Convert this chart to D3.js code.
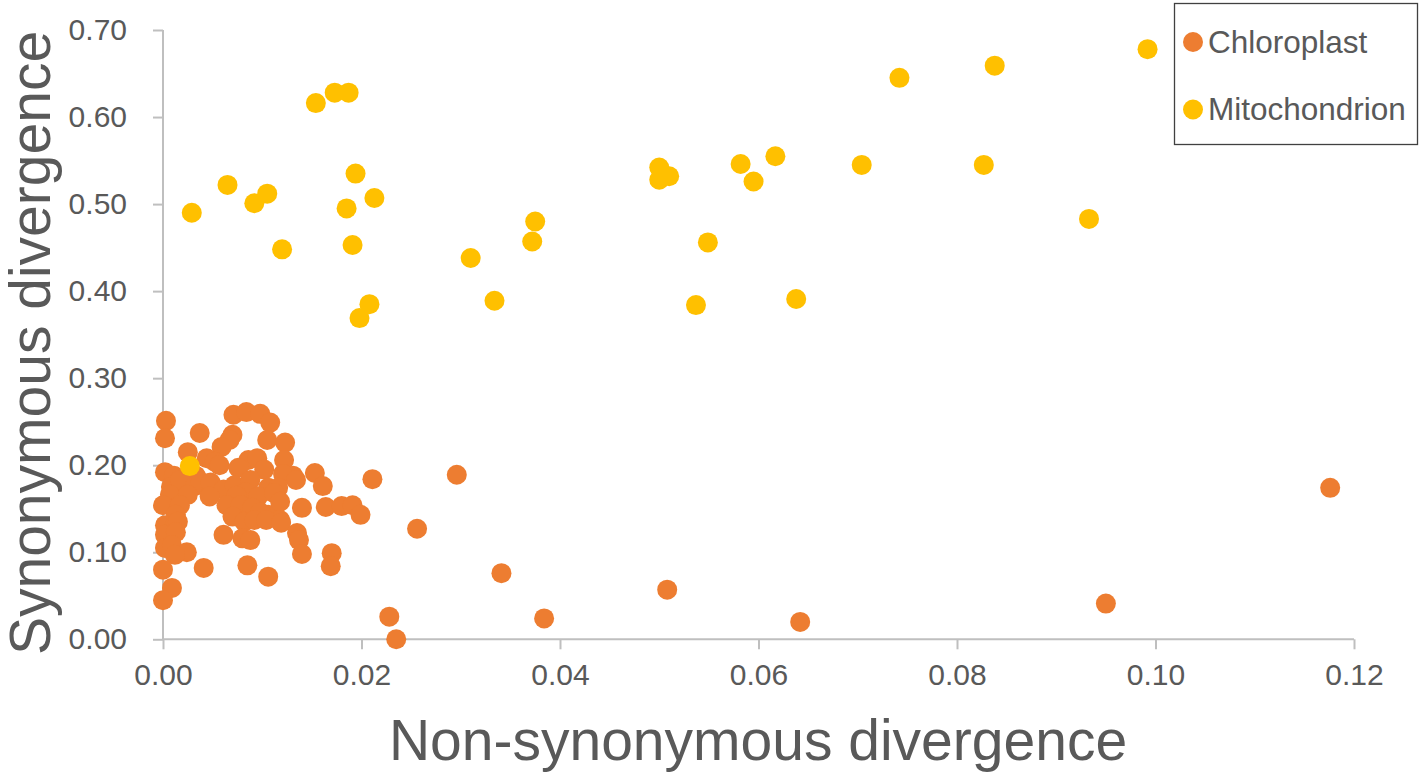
<!DOCTYPE html>
<html>
<head>
<meta charset="utf-8">
<script src="https://cdn.jsdelivr.net/npm/d3@7"></script>
<style>
  html, body { margin: 0; padding: 0; background: #fff; }
  svg { display: block; font-family: "Liberation Sans", Arial, sans-serif; }
</style>
</head>
<body>
<svg id="chart" width="1421" height="772"></svg>
<script>
// ---- data ----
const seriesNames = ["Chloroplast", "Mitochondrion"];
const xTicks = [0, 0.02, 0.04, 0.06, 0.08, 0.10, 0.12];
const yTicks = [0, 0.1, 0.2, 0.3, 0.4, 0.5, 0.6, 0.7];

const chloroplastX = [
  0.0003,0.0071,0.0084,0.0098,0.0108,0.0002,0.0037,0.0070,0.0067,0.0059,
  0.0105,0.0123,0.0025,0.0002,0.0044,0.0052,0.0057,0.0086,0.0095,0.0122,
  0.0131,0.0011,0.0033,0.0076,0.0102,0.0121,0.0153,0.0008,0.0017,0.0032,
  0.0038,0.0048,0.0061,0.0072,0.0088,0.0083,0.0106,0.0116,0.0134,0.0161,
  0.0007,0.0025,0.0047,0.0074,0.0096,0.0112,0.0000,0.0017,0.0064,0.0078,
  0.0090,0.0106,0.0118,0.0140,0.0164,0.0180,0.0191,0.0199,0.0013,0.0070,
  0.0098,0.0118,0.0002,0.0012,0.0015,0.0082,0.0092,0.0104,0.0119,0.0135,
  0.0137,0.0002,0.0013,0.0061,0.0080,0.0002,0.0009,0.0024,0.0012,0.0085,
  0.0106,0.0140,0.0170,0.0169,0.0041,0.0000,0.0009,0.0000,0.0088,
  0.1176,0.0950,0.0642,0.0508,0.0384,0.0341,0.0296,0.0256,0.0228,0.0235,0.0211
];
const chloroplastY = [
  0.251,0.258,0.261,0.259,0.249,0.231,0.237,0.235,0.229,0.221,
  0.229,0.226,0.215,0.192,0.208,0.204,0.200,0.206,0.208,0.206,
  0.188,0.188,0.188,0.197,0.195,0.190,0.191,0.175,0.183,0.176,
  0.181,0.180,0.172,0.177,0.183,0.169,0.174,0.174,0.183,0.176,
  0.166,0.166,0.164,0.165,0.164,0.168,0.154,0.154,0.154,0.154,
  0.151,0.143,0.158,0.151,0.152,0.153,0.154,0.143,0.143,0.141,
  0.146,0.137,0.131,0.131,0.135,0.135,0.137,0.137,0.134,0.122,
  0.114,0.120,0.123,0.120,0.116,0.105,0.108,0.100,0.097,0.085,
  0.072,0.098,0.099,0.084,0.082,0.080,0.059,0.045,0.114,
  0.174,0.041,0.020,0.057,0.024,0.076,0.189,0.127,0.026,0.000,0.184
];
const mitochondrionX = [
  0.0029,0.0065,0.0092,0.0105,0.0120,0.0154,0.0173,0.0187,0.0185,0.0194,
  0.0191,0.0213,0.0208,0.0198,0.0310,0.0334,0.0372,0.0375,0.0500,0.0500,
  0.0510,0.0549,0.0537,0.0582,0.0595,0.0617,0.0638,0.0704,0.0742,0.0827,
  0.0838,0.0933,0.0992,0.0027
];
const mitochondrionY = [
  0.490,0.522,0.501,0.512,0.448,0.616,0.628,0.628,0.495,0.535,
  0.453,0.507,0.385,0.369,0.438,0.389,0.457,0.480,0.542,0.528,
  0.532,0.456,0.384,0.546,0.526,0.555,0.391,0.545,0.645,0.545,
  0.659,0.483,0.678,0.199
];

const colors = ["#ED7D31", "#FFC000"];
const textColor = "#595959";
const axisColor = "#BFBFBF";

// ---- layout ----
const svg = d3.select("#chart");
const x = d3.scaleLinear().domain([0, 0.12]).range([163, 1354]);
const y = d3.scaleLinear().domain([0, 0.7]).range([639.3, 30]);

// y axis
const yAxis = svg.append("g").attr("transform", "translate(163,0)")
  .call(d3.axisLeft(y).tickValues(yTicks).tickSize(10).tickPadding(26).tickFormat(d3.format(".2f")));
// x axis
const xAxis = svg.append("g").attr("transform", `translate(0,${y(0)})`)
  .call(d3.axisBottom(x).tickValues(xTicks).tickSize(10).tickPadding(14).tickFormat(d3.format(".2f")));

[yAxis, xAxis].forEach(g => {
  g.select(".domain").attr("stroke", axisColor).attr("stroke-width", 2);
  g.selectAll(".tick line").attr("stroke", axisColor).attr("stroke-width", 2);
  g.selectAll(".tick text").attr("fill", textColor).style("font-size", "30px")
    .style("font-family", "'Liberation Sans', Arial, sans-serif");
});
xAxis.select(".domain").attr("d", `M${x(0)},0H${x(0.12)}`);
yAxis.select(".domain").attr("d", `M0,${y(0.7)}V${y(0)}`);

// axis titles
svg.append("text")
  .attr("x", 758).attr("y", 760)
  .attr("text-anchor", "middle")
  .attr("fill", textColor)
  .style("font-size", "57px")
  .text("Non-synonymous divergence");
svg.append("text")
  .attr("transform", "translate(50,343) rotate(-90)")
  .attr("text-anchor", "middle")
  .attr("fill", textColor)
  .style("font-size", "57px")
  .text("Synonymous divergence");

// points
const chloro = chloroplastX.map((v, i) => ({x: v, y: chloroplastY[i]}));
const mito = mitochondrionX.map((v, i) => ({x: v, y: mitochondrionY[i]}));
[chloro, mito].forEach((data, si) => {
  svg.append("g").selectAll("circle").data(data).join("circle")
    .attr("cx", d => x(d.x)).attr("cy", d => y(d.y)).attr("r", 10)
    .attr("fill", colors[si]);
});

// legend
const lg = svg.append("g");
lg.append("rect").attr("x", 1174.5).attr("y", 3.5).attr("width", 243).attr("height", 141)
  .attr("fill", "#fff").attr("stroke", "#404040").attr("stroke-width", 1.3);
seriesNames.forEach((name, i) => {
  const cy = 42 + i * 67.5;
  lg.append("circle").attr("cx", 1193).attr("cy", cy).attr("r", 10).attr("fill", colors[i]);
  lg.append("text").attr("x", 1208).attr("y", cy + 10.5)
    .attr("fill", textColor).style("font-size", "31.5px").text(name);
});
</script>
</body>
</html>
